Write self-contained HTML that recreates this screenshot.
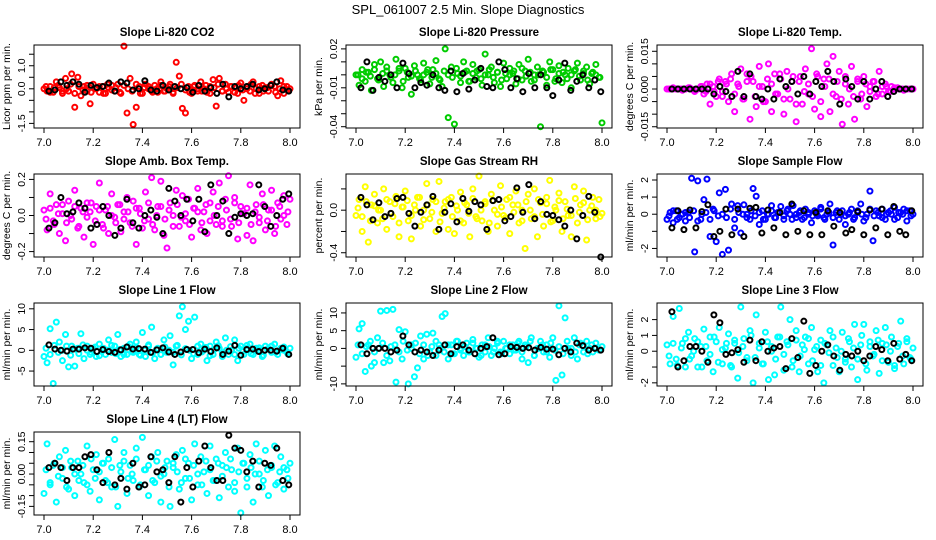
<!DOCTYPE html>
<html><head><meta charset="utf-8"><style>
html,body{margin:0;padding:0;background:#fff;}
svg{display:block;font-family:"Liberation Sans",Arial,sans-serif;}
</style></head><body>
<svg id="chart" width="936" height="540" viewBox="0 0 936 540">
<rect width="936" height="540" fill="#fff"/>
<text x="468" y="14" font-size="13" text-anchor="middle">SPL_061007  2.5 Min. Slope Diagnostics</text>
</svg>
<script>
// ---- data ----
const xTicks = [7.0,7.2,7.4,7.6,7.8,8.0];
const xTickLabels = ["7.0","7.2","7.4","7.6","7.8","8.0"];
const titles = ["Slope Li-820 CO2","Slope Li-820 Pressure","Slope Li-820 Temp.","Slope Amb. Box Temp.","Slope Gas Stream RH","Slope Sample Flow","Slope Line 1 Flow","Slope Line 2 Flow","Slope Line 3 Flow","Slope Line 4 (LT) Flow"];
const yTitles = ["Licor ppm per min.","kPa per min.","degrees C per min.","degrees C per min.","percent per min.","ml/min per min.","ml/min per min.","ml/min per min.","ml/min per min.","ml/min per min."];
const colors = ["#ff0000","#00cc00","#ff00ff","#ff00ff","#ffff00","#0000ff","#00ffff","#00ffff","#00ffff","#00ffff"];
const yMin = [-1.7,-0.041,-0.0155,-0.23,-0.44,-2.5,-8.6,-10.6,-2.2,-0.19];
const yMax = [1.9,0.023,0.0175,0.23,0.34,2.35,11.4,12.8,3.05,0.195];
const yTicks = [[-1.5,-1,-0.5,0,0.5,1,1.5],[-0.04,-0.03,-0.02,-0.01,0,0.01,0.02],[-0.015,-0.01,-0.005,0,0.005,0.01,0.015],[-0.2,-0.1,0,0.1,0.2],[-0.4,-0.2,0,0.2],[-2,-1,0,1,2],[-5,0,5,10],[-10,-5,0,5,10],[-2,-1,0,1,2],[-0.15,-0.1,-0.05,0,0.05,0.1,0.15]];
const yTickLabels = [["-1.5","","","0.0","","1.0",""],["-0.04","","","-0.01","","","0.02"],["-0.015","","","0.000","","","0.015"],["-0.2","","0.0","","0.2"],["-0.4","","0.0",""],["-2","","0","1","2"],["-5","0","5","10"],["-10","","0","5","10"],["-2","","0","1","2"],["-0.15","","","0.00","","","0.15"]];

const s1c = [0.0,-0.1,0.1,-0.15,0.3,0.05,-0.2,0.45,-0.1,0.65,-0.8,0.5,-0.3,0.1,-0.1,-0.65,0.2,0.0,-0.15,0.1,-0.2,0.05,0.15,-0.1,0.2,-0.2,1.85,-1.05,0.45,-1.55,-0.8,0.1,-0.2,0.2,0.0,-0.1,0.15,-0.15,0.3,-0.1,0.0,0.2,-0.15,1.15,0.55,-0.85,-1.05,0.1,-0.2,0.15,-0.1,0.3,0.0,-0.15,0.1,0.4,-0.75,0.45,-0.1,0.2,-0.15,0.1,0.05,-0.2,0.25,-0.5,0.1,-0.1,0.3,0.0,-0.2,0.15,0.05,-0.1,0.2,0.1,-0.3,0.35,-0.2,0.1,0.0];
const s1b = [0.1,-0.15,0.05,0.15,-0.1,0.0,0.2,-0.2,0.1,-0.05,0.15,-0.15,0.0,0.1,-0.2,0.2,-0.05,0.05,-0.15,0.15,0.0,-0.1,0.2,-0.2,0.05,0.1,-0.15,0.0,0.15,-0.1,0.1,-0.2,0.05,0.2,-0.05,-0.15,0.1,0.0,-0.1,0.15,-0.2,0.05,0.2,-0.1,0.0,0.1,-0.15,0.15,-0.05,0.0,0.2,-0.2,0.1,-0.1,0.05,0.15,-0.15,0.0,0.1,-0.05];
const s1k = [-0.1,-0.05,0.3,0.15,0.3,0.2,-0.15,0.15,0.05,0.1,0.25,-0.1,0.3,0.25,-0.05,0.0,0.35,-0.05,-0.1,0.15,-0.05,0.1,0.0,0.05,-0.15,0.15,-0.1,0.05,-0.2,0.2,-0.35,0.1,0.0,0.1,0.2,-0.05,0.0,0.15,0.3,-0.05,-0.1];
const s2c = [0.0,-0.008,0.004,-0.005,0.002,-0.012,0.008,-0.003,0.01,-0.009,0.006,0.0,-0.006,0.012,0.003,-0.01,0.005,-0.002,-0.015,0.007,0.0,-0.004,0.009,0.002,-0.007,0.004,0.011,-0.003,-0.009,0.02,-0.033,0.006,-0.038,0.001,-0.006,0.01,0.003,-0.005,0.008,-0.002,0.004,-0.008,0.016,0.0,0.006,-0.006,0.002,-0.009,0.009,-0.003,0.005,0.001,-0.007,0.008,-0.004,0.003,0.012,-0.005,0.0,0.006,-0.04,0.002,-0.008,0.01,0.004,-0.003,0.007,-0.006,0.0,0.005,-0.01,0.003,0.009,-0.004,0.001,0.006,-0.007,0.002,0.008,-0.002,-0.037];
const s2b = [0.0,-0.003,0.002,-0.001,0.004,-0.004,0.001,0.003,-0.002,0.0,0.005,-0.005,0.002,-0.001,0.003,-0.003,0.0,0.004,-0.002,0.001,-0.004,0.003,0.0,-0.002,0.005,-0.001,0.002,-0.005,0.001,0.003,-0.003,0.0,0.004,-0.002,0.002,-0.004,0.001,0.0,0.003,-0.003,0.005,-0.001,0.002,-0.004,0.0,0.003,-0.002,0.004,-0.005,0.001,0.002,-0.003,0.0,0.004,-0.001,0.003,-0.004,0.001,0.0,-0.002];
const s2k = [-0.01,0.01,-0.012,-0.002,-0.005,0.0,-0.01,0.009,0.001,-0.01,-0.006,-0.008,0.0,-0.01,-0.012,0.003,-0.013,0.001,-0.011,-0.004,0.005,-0.009,-0.01,0.01,0.004,-0.01,-0.003,-0.013,0.001,-0.01,0.0,-0.01,-0.016,-0.004,0.009,-0.012,-0.005,0.0,-0.01,-0.004,-0.013];
const s3c = [0,0,0.0005,0,0,-0.0005,0,0.0005,0,-0.001,0,0.001,-0.002,0.002,-0.006,0.001,-0.003,0.004,-0.001,0.003,-0.005,0.006,-0.009,0.002,0.008,-0.004,0.006,-0.012,0.003,-0.007,0.009,0.001,-0.005,0.01,-0.009,0.006,-0.002,0.004,-0.01,0.007,-0.004,0.005,-0.013,0.003,-0.006,0.008,-0.002,0.016,-0.008,0.005,-0.011,0.004,0.01,-0.009,0.013,-0.003,0.007,-0.014,0.002,-0.006,0.009,-0.012,0.003,-0.004,0.005,-0.007,0.001,0.003,-0.003,0.007,-0.002,0.002,-0.001,0.001,0,0.0005,0,-0.0005,0,0,0];
const s3b = [0,0,0,0,0,0.0005,-0.0005,0,0.001,-0.001,0.002,-0.001,0.003,-0.003,0.002,0.004,-0.002,0.001,-0.004,0.003,0.005,-0.003,0.001,-0.005,0.004,0.002,-0.002,0.006,-0.004,0.0,0.003,-0.006,0.005,-0.001,0.002,-0.003,0.006,-0.005,0.001,0.004,-0.002,0.003,-0.004,0.005,0.0,-0.003,0.004,-0.002,0.002,-0.001,0.003,-0.002,0.001,0.001,-0.001,0.0005,0,0,0,0];
const s3k = [0,0,0,0,0,0,0,-0.002,0.001,-0.001,-0.003,0.007,-0.003,0.006,-0.003,-0.004,0,-0.004,0.004,0.001,0.003,-0.002,0.005,-0.002,0.003,0.001,0.007,0.003,-0.006,0.004,0.001,-0.004,0.003,-0.004,0,0.003,-0.003,-0.001,0,0,0];
const s4c = [0.03,-0.08,0.12,-0.03,0.06,-0.1,0.01,-0.14,0.08,-0.02,0.14,-0.07,0.04,-0.12,0.07,0.02,-0.16,0.05,0.18,-0.05,0.03,-0.1,0.12,-0.01,0.06,-0.09,0.02,0.1,-0.04,0.08,-0.16,0.04,-0.07,0.13,-0.02,0.21,-0.08,0.05,0.19,-0.11,-0.18,0.07,0.0,0.14,-0.06,0.11,-0.03,0.09,-0.12,0.04,0.15,-0.08,0.02,-0.1,0.07,0.13,-0.05,0.18,-0.03,0.09,0.22,-0.06,0.1,-0.13,0.05,0.01,-0.11,0.17,-0.14,0.06,-0.04,0.12,-0.08,0.03,0.14,-0.1,0.07,-0.02,0.11,-0.05,0.09];
const s4b = [-0.02,0.04,-0.05,0.01,0.06,-0.04,0.0,0.05,-0.06,0.02,-0.01,0.07,-0.03,0.03,-0.07,0.05,0.0,-0.04,0.06,-0.02,0.02,-0.06,0.04,0.01,-0.03,0.07,-0.05,0.0,0.05,-0.02,0.03,-0.06,0.06,-0.01,0.01,-0.05,0.04,0.02,-0.04,0.06,-0.03,0.0,0.05,-0.06,0.03,-0.02,0.07,-0.04,0.01,0.04,-0.05,0.02,-0.01,0.06,-0.03,0.03,-0.06,0.05,0.0,0.02];
const s4k = [-0.07,-0.04,0.1,0.01,0.02,0.07,0.04,-0.07,-0.05,0.05,0.0,-0.11,-0.07,0.09,-0.04,-0.07,0.0,0.03,-0.01,-0.1,0.15,0.08,0.0,0.09,-0.03,0.09,-0.09,0.17,0.0,0.08,-0.1,-0.01,0.01,0.0,0.01,0.17,0.05,-0.06,0.0,0.09,0.12];
const s5c = [-0.05,0.1,-0.2,0.22,-0.3,0.05,0.15,-0.12,0.0,0.2,-0.18,0.08,-0.06,0.13,-0.25,0.03,0.18,-0.1,-0.27,0.05,0.12,-0.15,0.0,0.25,-0.08,0.1,-0.2,0.27,-0.03,0.08,-0.18,0.12,-0.22,0.0,0.17,-0.12,0.05,-0.25,0.2,-0.06,0.32,-0.1,0.08,-0.2,0.15,0.0,-0.15,0.23,-0.05,0.1,-0.22,0.05,0.18,-0.12,0.0,-0.36,0.15,-0.08,0.2,-0.25,0.07,-0.15,0.12,0.28,-0.1,0.0,0.16,-0.2,0.08,-0.05,-0.25,0.22,-0.12,0.05,0.18,-0.28,0.0,0.12,-0.08,0.1,-0.03];
const s5b = [0.02,-0.06,0.08,-0.1,0.04,0.0,-0.08,0.1,-0.03,0.06,-0.12,0.03,0.09,-0.05,0.0,0.12,-0.09,0.05,-0.02,0.08,-0.11,0.02,0.1,-0.06,0.04,-0.1,0.07,-0.03,0.11,-0.08,0.0,0.06,-0.12,0.09,-0.04,0.03,-0.07,0.12,-0.02,0.05,-0.1,0.08,0.0,-0.06,0.1,-0.04,0.06,-0.11,0.03,0.09,-0.08,0.01,-0.05,0.11,-0.02,0.07,-0.09,0.04,0.0,-0.06];
const s5k = [0.12,0.05,-0.09,0.07,-0.06,-0.03,0.11,0.12,-0.03,-0.15,-0.02,0.05,0.13,-0.18,-0.02,0.06,-0.11,0.11,-0.01,0.08,0.05,-0.18,0.09,0.1,-0.1,-0.06,0.21,-0.02,0.24,-0.08,0.08,-0.04,-0.05,-0.09,-0.15,0.0,-0.27,-0.05,0.13,-0.02,-0.44];
const s6c = [-0.3,0.1,-0.5,0.2,-0.2,0.0,-0.4,0.1,2.1,-2.2,1.95,-0.3,0.85,2.05,-1.3,0.3,-1.6,1.25,-2.35,1.45,-2.1,0.6,-0.8,0.5,-1.1,0.55,0.0,-0.3,1.5,1.05,-0.6,0.2,-0.3,0.0,0.5,-0.2,0.1,0.45,-0.3,0.2,0.0,0.5,-0.2,0.1,-0.3,0.3,0.0,-0.5,0.2,-0.1,0.4,-0.2,0.0,0.6,-1.8,0.1,-0.3,0.2,-0.6,0.0,0.3,-0.2,0.1,0.6,-0.4,0.0,1.35,-1.55,0.2,-0.1,0.3,-0.3,0.1,0.0,0.4,-0.2,0.1,0.3,-0.4,0.2,0.0];
const s6b = [-0.1,0.2,-0.3,0.0,0.1,-0.2,0.2,-0.4,0.0,0.1,-0.3,0.2,-0.1,0.0,-0.2,0.3,-0.3,0.1,0.0,-0.2,0.2,-0.1,0.1,-0.3,0.0,0.2,-0.2,0.1,-0.1,0.3,-0.3,0.0,0.2,-0.2,0.1,-0.1,0.0,0.3,-0.3,0.1,-0.2,0.2,0.0,-0.1,0.1,-0.3,0.2,0.0,-0.2,0.3,-0.1,0.1,-0.2,0.0,0.2,-0.3,0.1,0.0,0.2,-0.1];
const s6k = [-0.8,0.2,-0.9,0.25,-0.8,0.15,0.55,-1.3,-1.0,0.3,-1.2,0.3,-1.3,0.35,0.4,-1.1,0.25,-0.8,0.1,-1.2,0.6,-1.0,0.2,-1.2,0.1,-1.2,0.2,-0.7,0.1,-1.1,-0.9,0.15,-1.2,0.25,-0.8,0.3,-1.2,0.45,-1.0,-1.2,0.2];
const s7c = [-1.5,-3,5.2,-8,6.8,2,-2.5,3.8,-4,1,-3.8,0.5,4,-2,1,-1,0.5,-1.5,1.5,0,-1,2.5,-0.5,1,3.8,-1.5,0.5,-1,1.5,-0.5,2,-1,4.3,-1.5,1,5.6,-2,0.5,-1,2.5,-0.5,3.5,-3.5,1,8.3,10.5,5,7,-2,8,-1,1.5,0,-2.5,1,-1,2,0.5,-1.5,3,-1,0,2.5,-2.5,1,-1,0.5,1.5,-1,0.5,0,-1.5,1,0.5,-0.5,1.5,-1,0.5,0,-0.5,0.5];
const s7b = [0.5,-1,1.2,-0.5,0,1,-1.2,0.3,-0.8,1.3,0,-0.5,0.8,-1.3,0.5,0,1.2,-0.8,0.2,-1,1,-0.3,0.6,-1.2,0,1.3,-0.6,0.3,-1,0.8,0,-0.5,1.2,-1.1,0.4,0,-0.8,1,-0.4,0.7,-1.3,0.2,1.1,-0.6,0,0.9,-1,0.5,-0.3,1.2,-0.8,0,0.6,-1.2,0.3,1,-0.5,0,0.8,-0.9];
const s7k = [1.3,0.3,0,-0.2,0.3,0.3,0.6,0.5,-0.3,0.2,-0.3,-0.5,0.1,0.8,0.3,0.4,0.3,-0.5,0.1,0.6,-0.4,-1,-0.4,0.2,0.2,-0.6,0.3,-0.3,0.6,-1,-0.2,1.2,-1.2,0.2,0.3,-0.3,0,0,-0.2,0.5,-1];
const s8c = [-2.5,5.5,7,-6.5,1,-5,-4,3,10.5,-4,10.7,-3.5,11,-9.5,5.3,-3,4.7,-10,1,-8,-5.5,3.5,-3,4,-1,4.3,-2,1,9,9.8,-3,1,-1.5,2,0,-2,1.5,-1,2.5,0,-2.5,1,-1,3,-2,0,1.5,-1,2,0,-1.5,1,-0.5,2,-3,1,-4,3,-2,0,2,-1,1,-2.5,3,-9,12,-7.5,8.6,0,-2,3,-3,1.5,-1,2,0,-1,1.5,-0.5,0.5];
const s8b = [1,-1.5,0.5,2,-1,0,1.5,-2,0.5,1,-1,2,-0.5,0,1.5,-1.5,1,-2,0.5,2,0,-1,1,-1.5,2,-0.5,0.5,-1,1.5,0,-2,1,0.5,-1,2,-1.5,0,1,-0.5,1.5,-1,0.5,2,-2,0,1,-1,1.5,-0.5,0.5,-1.5,2,0,-1,1,0.5,-1.5,1,0,-0.5];
const s8k = [1,-1.5,0,0,0,-1,-0.5,3.5,1,-1,-0.5,-1,-2,-0.5,1,-1.5,0.5,1,-0.5,-1.5,0,0.5,3,-1.8,-1.5,0.5,0.3,0,0.2,-0.5,0.3,-0.2,-0.2,-1.8,0,-1,1.5,0.8,-0.5,0,-0.5];
const s9c = [0.4,-0.8,2.2,-0.5,2.7,0.5,-1,1.2,-0.3,0.8,-1,0.3,1.4,-0.6,0.9,-1.3,0.6,1.5,-0.8,0.2,1.1,-1,0.5,-1.7,2.8,0.8,-0.4,1.3,-2,2.3,0.5,-0.8,1.2,-1.8,0.3,-1.5,0.9,2.8,-1.2,0.6,2,-0.6,1.3,-1.3,0.4,0.9,-0.8,1.5,0.1,-1.3,0.7,-2,0.4,1.3,-0.9,0.2,-1.3,1.2,-0.5,0.8,-1,1.7,-1.8,0.4,1.7,-1.2,0.6,-0.3,1.3,-1.4,0.5,1.5,-0.7,0.9,-1.1,0.3,1.9,-0.8,0.6,-0.4,0.2];
const s9b = [-0.3,0.5,-0.9,0.2,0.8,-0.5,0.0,0.6,-1.0,0.3,-0.2,0.9,-0.7,0.1,0.5,-0.9,0.7,-0.1,0.3,-0.6,1.0,-0.4,0.2,-0.8,0.6,0.0,-0.5,0.9,-0.2,0.4,-1.0,0.7,-0.3,0.1,0.8,-0.6,0.3,-0.9,0.5,-0.1,0.9,-0.4,0.0,-0.7,0.6,0.2,-0.5,1.0,-0.8,0.3,-0.2,0.7,-0.6,0.4,0.0,-0.9,0.5,-0.3,0.8,-0.5];
const s9k = [2.5,-1,-0.6,0.3,0.3,0,-0.7,2.3,1.8,-0.2,-0.1,0.1,-0.7,0.7,-0.6,0.6,0,0.2,0.3,-1.1,0.8,-0.4,1.9,-1.4,-0.9,0,0.4,-0.3,-1.2,-0.2,-0.3,0,-0.6,-0.3,0.3,0.1,-0.6,0.5,-0.5,-0.2,-0.6];
const s10c = [-0.09,0.14,-0.05,0.04,-0.13,0.08,-0.02,0.11,-0.07,0.03,-0.1,0.06,0.0,-0.04,0.13,-0.08,0.02,0.09,-0.12,0.05,-0.03,0.07,-0.06,0.16,-0.15,0.01,0.1,-0.09,0.04,-0.03,0.12,-0.06,0.17,0.02,-0.1,0.08,-0.04,0.1,-0.13,0.0,0.06,-0.15,0.03,0.09,-0.07,0.11,-0.02,0.05,-0.12,0.14,-0.05,0.08,0.01,-0.09,0.13,-0.03,0.07,-0.11,0.04,0.1,-0.06,0.02,-0.08,0.12,-0.18,0.05,-0.02,0.09,-0.13,0.14,0.0,-0.06,0.11,-0.1,0.03,0.13,-0.04,0.08,-0.07,0.02,0.05];
const s10b = [0.02,-0.04,0.05,-0.01,0.03,-0.06,0.06,0.0,-0.03,0.04,-0.05,0.07,-0.02,0.01,0.05,-0.04,0.03,-0.06,0.04,0.06,-0.02,0.0,0.07,-0.05,0.02,0.04,-0.03,0.06,-0.01,0.03,-0.06,0.05,0.01,-0.04,0.07,-0.02,0.04,0.0,-0.05,0.06,0.02,-0.03,0.05,-0.01,0.03,0.07,-0.04,0.01,0.05,-0.06,0.03,0.0,0.06,-0.03,0.02,0.04,-0.05,0.01,0.03,-0.02];
const s10k = [0.03,0.05,0.03,-0.03,0.03,0.03,0.08,0.09,0.02,-0.04,0.1,-0.05,-0.02,-0.07,0.05,-0.06,-0.05,0.08,0.01,0.02,-0.04,0.08,-0.13,0.03,-0.06,0.06,0.13,0.03,-0.03,-0.03,0.18,0.12,0.11,0.01,0.06,-0.06,0.05,0.04,0.12,-0.03,-0.05];
const coloredSeries = [s1c,s2c,s3c,s4c,s5c,s6c,s7c,s8c,s9c,s10c];
const bandSeries = [s1b,s2b,s3b,s4b,s5b,s6b,s7b,s8b,s9b,s10b];
const blackSeries = [s1k,s2k,s3k,s4k,s5k,s6k,s7k,s8k,s9k,s10k];

// ---- drawing ----
const NS = "http://www.w3.org/2000/svg";
const svg = document.getElementById("chart");
const colLeft = [34, 346, 657];
const rowTop = [45, 174, 303, 432];
const BW = 266, BH = 83;
function mk(tag, attrs, parent){
  const e = document.createElementNS(NS, tag);
  for (const k in attrs) e.setAttribute(k, attrs[k]);
  (parent||svg).appendChild(e);
  return e;
}
for (let p = 0; p < 10; p++) {
  const L = colLeft[p % 3], T = rowTop[Math.floor(p / 3)];
  const g = mk("g", {});
  
  
  const xs = v => L + 10 + (v - 7.0) / 1.0 * (BW - 20);
  const ys = v => T + BH - (v - yMin[p]) / (yMax[p] - yMin[p]) * BH;
  const t = mk("text", {x: L + BW / 2, y: T - 9, "font-size": 11.5, "font-weight": "bold", "text-anchor": "middle"}, g);
  t.textContent = titles[p];
  
  
  const bs = bandSeries[p];
  bs.forEach((v, i) => {
    const c = mk("circle", {cx: xs(7 + (i + 0.5) / bs.length), cy: ys(v), r: 2.5, fill: "none", stroke: colors[p], "stroke-width": 2}, g);
    
    
  });
  const cs = coloredSeries[p];
  cs.forEach((v, i) => {
    const c = mk("circle", {cx: xs(7 + i / (cs.length - 1)), cy: ys(v), r: 2.5, fill: "none", stroke: colors[p], "stroke-width": 2}, g);
    
    
  });
  const ks = blackSeries[p];
  ks.forEach((v, i) => {
    const c = mk("circle", {cx: xs(7.02 + i / (ks.length - 1) * 0.975), cy: ys(v), r: 2.5, fill: "none", stroke: "#000", "stroke-width": 2}, g);
    
    
  });
  const b = mk("rect", {x: L, y: T, width: BW, height: BH, fill: "none", stroke: "#000", "stroke-width": 1}, g);
  
  
  xTicks.forEach((v, i) => {
    mk("line", {x1: xs(v), x2: xs(v), y1: T + BH, y2: T + BH + 5, stroke: "#000"}, g);
    const l = mk("text", {x: xs(v), y: T + BH + 18, "font-size": 11, "text-anchor": "middle"}, g);
    l.textContent = xTickLabels[i];
    
    
  });
  yTicks[p].forEach((v, i) => {
    mk("line", {x1: L - 5, x2: L, y1: ys(v), y2: ys(v), stroke: "#000"}, g);
    if (yTickLabels[p][i]) {
      const yl = mk("text", {x: 0, y: 0, "font-size": 10.5, "text-anchor": "middle", transform: `translate(${L - 9},${ys(v)}) rotate(-90)`}, g);
      yl.textContent = yTickLabels[p][i];
      
      
    }
  });
  const yt = mk("text", {x: 0, y: 0, "font-size": 10.5, "text-anchor": "middle", transform: `translate(${L - 24},${T + BH / 2}) rotate(-90)`}, g);
  yt.textContent = yTitles[p];
  
  
}
</script>
</body></html>
